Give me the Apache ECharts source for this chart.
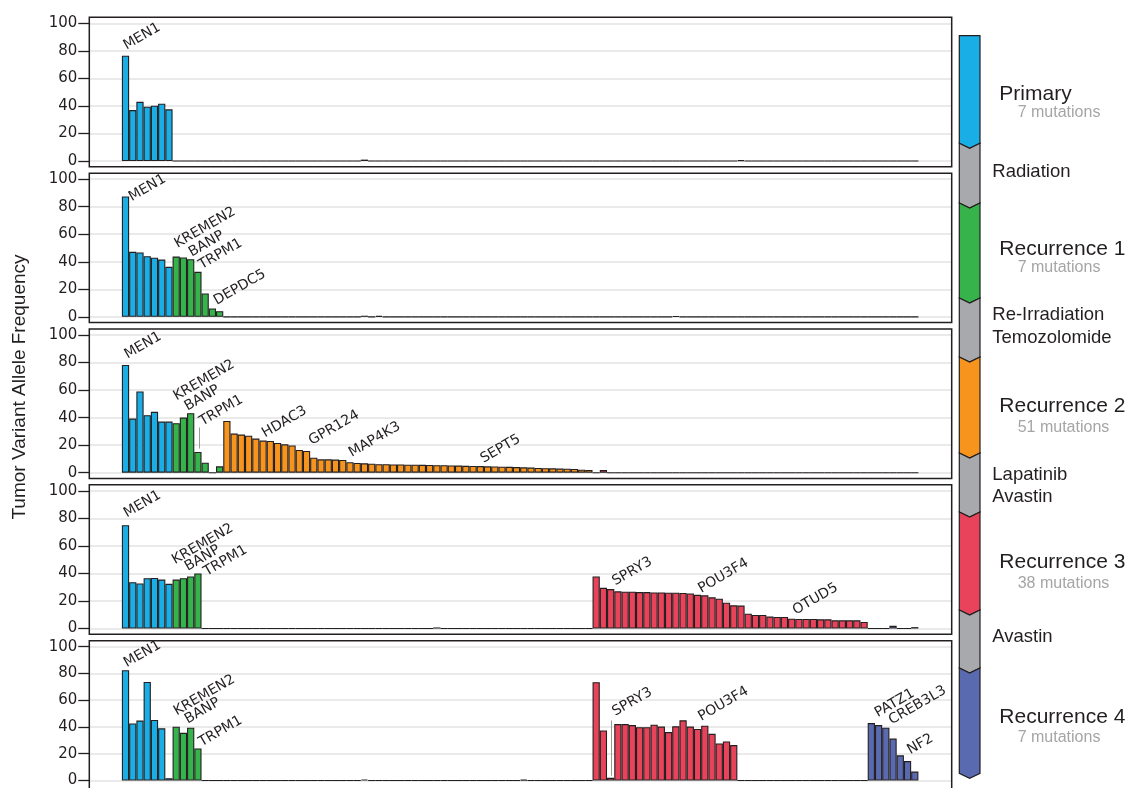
<!DOCTYPE html>
<html>
<head>
<meta charset="utf-8">
<script src="https://cdn.jsdelivr.net/npm/echarts@6/dist/echarts.min.js"></script>
<style>html,body{margin:0;padding:0;background:#fff}#main{width:1132px;height:788px}</style>
</head>
<body>
<div id="main"></div>
<script>
var groupNames = ['Primary', 'Recurrence 1', 'Recurrence 2', 'Recurrence 3', 'Recurrence 4'];
var groupSizes = [7, 7, 51, 38, 7];
var groupColors = ['#1aaee6', '#36b44b', '#f7941e', '#e8435a', '#5a6ab0'];
var yTicks = [0, 20, 40, 60, 80, 100];

// allele frequency per panel and mutation group (values not listed are 0)
var p1Primary = [76.5, 37, 43, 39.4, 40.2, 41.6, 37.5];
var p1Rec1 = [];
var p1Rec2 = [0, 0, 0, 0, 0, 0, 0, 0, 0, 0, 0, 0, 0, 0, 0, 0, 0, 0, 0, 1.0];
var p1Rec3 = [0, 0, 0, 0, 0, 0, 0, 0, 0, 0, 0, 0, 0, 0, 0, 0, 0, 0, 0, 0, 0.6];
var p1Rec4 = [];

var p2Primary = [87.4, 47.2, 46.8, 44, 43, 41.6, 36.3];
var p2Rec1 = [43.8, 43.1, 41.9, 32.7, 17, 6.1, 4.1];
var p2Rec2 = [0, 0, 0, 0, 0, 0, 0, 0, 0, 0, 0, 0, 0, 0, 0, 0, 0, 0, 0, 0.8, 0, 0.7];
var p2Rec3 = [0, 0, 0, 0, 0, 0, 0, 0, 0, 0, 0, 0.6];
var p2Rec4 = [];

var p3Primary = [78.2, 39.3, 59, 41.8, 44.2, 37.1, 37.1];
var p3Rec1 = [36, 40, 43.2, 15.1, 7.3, 0, 4.6];
var p3Rec2 = [37.6, 28.4, 27.7, 26.9, 24.8, 23.3, 23.1, 21.6, 20.6, 19.8,
              16.5, 15.8, 10.9, 9.7, 9.7, 9.5, 9.3, 7.6, 7.1, 6.8,
              6.5, 6.2, 6.2, 6.0, 6.0, 5.8, 5.8, 5.7, 5.6, 5.5,
              5.4, 5.3, 5.2, 5.0, 4.9, 4.8, 4.6, 4.5, 4.4, 4.3,
              4.1, 3.9, 3.7, 3.5, 3.3, 3.2, 3.0, 2.9, 2.7, 2.2, 2.0];
var p3Rec3 = [0, 2];
var p3Rec4 = [];

var p4Primary = [75.1, 33.7, 32.7, 36.6, 36.8, 35.6, 32.5];
var p4Rec1 = [35.6, 36.6, 37.8, 40];
var p4Rec2 = [0, 0, 0, 0, 0, 0, 0, 0, 0, 0, 0, 0, 0, 0, 0, 0, 0, 0, 0, 0,
              0, 0, 0, 0, 0, 0, 0, 0, 0, 0.8];
var p4Rec3 = [37.8, 29.6, 28.7, 27, 26.8, 26.8, 26.5, 26.5, 26.2, 26.2,
              26, 26, 25.8, 25.5, 24.5, 24.1, 22.7, 21.7, 18.8, 16.9,
              16.7, 10.8, 9.9, 9.9, 8.7, 8.4, 8.4, 7.2, 7.0, 7.0,
              7.0, 6.7, 6.7, 6.0, 6.0, 6.0, 6.0, 4.8];
var p4Rec4 = [0, 0, 0, 2, 0, 0, 1];

var p5Primary = [82.4, 42.6, 44.8, 73.7, 45.3, 39, 1.7];
var p5Rec1 = [40.2, 35.6, 39.5, 24];
var p5Rec2 = [0, 0, 0, 0, 0, 0, 0, 0, 0, 0, 0, 0, 0, 0, 0, 0, 0, 0, 0, 0.8,
              0, 0, 0, 0, 0, 0, 0, 0, 0, 0, 0, 0, 0, 0, 0, 0, 0, 0, 0, 0, 0, 0.6];
var p5Rec3 = [73.5, 37.4, 2, 42.2, 42.2, 41.4, 39.8, 39.8, 41.7, 40.3,
              36.2, 40.5, 45, 40.3, 38.5, 41, 34.9, 27.7, 29.2, 26.5];
var p5Rec4 = [42.9, 41.4, 39.5, 31.3, 18.8, 14.5, 6.7];

var panels = [
    [p1Primary, p1Rec1, p1Rec2, p1Rec3, p1Rec4],
    [p2Primary, p2Rec1, p2Rec2, p2Rec3, p2Rec4],
    [p3Primary, p3Rec1, p3Rec2, p3Rec3, p3Rec4],
    [p4Primary, p4Rec1, p4Rec2, p4Rec3, p4Rec4],
    [p5Primary, p5Rec1, p5Rec2, p5Rec3, p5Rec4]
];

// gene labels: panel, mutation index, gene
var geneLabels = [
    [0, 0, 'MEN1'],
    [1, 0, 'MEN1'], [1, 7, 'KREMEN2'], [1, 8, 'BANP'], [1, 10, 'TRPM1'], [1, 12, 'DEPDC5'],
    [2, 0, 'MEN1'], [2, 7, 'KREMEN2'], [2, 8, 'BANP'], [2, 10, 'TRPM1'], [2, 19, 'HDAC3'],
    [2, 25, 'GPR124'], [2, 31, 'MAP4K3'], [2, 49, 'SEPT5'],
    [3, 0, 'MEN1'], [3, 7, 'KREMEN2'], [3, 8, 'BANP'], [3, 10, 'TRPM1'], [3, 67, 'SPRY3'],
    [3, 79, 'POU3F4'], [3, 92, 'OTUD5'],
    [4, 0, 'MEN1'], [4, 7, 'KREMEN2'], [4, 8, 'BANP'], [4, 10, 'TRPM1'], [4, 67, 'SPRY3'],
    [4, 79, 'POU3F4'], [4, 103, 'PATZ1'], [4, 105, 'CREB3L3'], [4, 108, 'NF2']
];
// label anchor relative to bar top-left, px
var labelNudge = [
    [2.7, -3],
    [8, 7.7], [3, -5.7], [10.1, 2.1], [5.6, 0.3], [6.1, -0.6],
    [3.7, -3.3], [2, -19.6], [5.8, -4], [6.3, -23.3], [3.8, -0.3],
    [7, -3], [3.6, -2.3], [4.9, -0.1],
    [3, -4.7], [0.7, -12.3], [6.1, -4.3], [10.6, 5.4], [6.3, -0.5],
    [5.4, 1], [5.9, -1.1],
    [3, 0], [2.3, -8.3], [6.1, -6.3], [5.6, 1], [6.3, -58.9],
    [5.4, -5.1], [8.3, -3], [7.8, -0.3], [4.5, -4]
];

// legend: stage fills and treatment notes
var timelineEdges = [35.7, 143.3, 203, 298, 357, 453, 512, 610, 668, 773.3];
var gray = '#a7a9ac';
var timelineFill = [groupColors[0], gray, groupColors[1], gray, groupColors[2], gray, groupColors[3], gray, groupColors[4]];
var treatments = [['Radiation'], ['Re-Irradiation', 'Temozolomide'], ['Lapatinib', 'Avastin'], ['Avastin']];

var ink = '#231f20';
var gridLeft = 89.3, gridW = 862.4, gridH = 137.7, panelStep = 155.85, firstTop = 23.3;
var xMin = -5, xMax = 114.1;
var barW = gridW / (xMax - xMin);

var grids = [], xAxes = [], yAxes = [], series = [], graphics = [];

for (var k = 0; k < panels.length; k++) {
    var panelTop = firstTop + panelStep * k;
    grids.push({ left: gridLeft, top: panelTop, width: gridW, height: gridH });
    xAxes.push({ gridIndex: k, type: 'value', min: xMin, max: xMax, show: false });
    yAxes.push({
        gridIndex: k, type: 'value', min: 0, max: 100, interval: 20,
        axisLine: { show: false, onZero: false },
        axisTick: { show: true, length: 11, lineStyle: { color: ink, width: 1.3 } },
        axisLabel: { margin: 12, color: ink, fontSize: 15, fontFamily: 'DejaVu Sans' },
        splitLine: { lineStyle: { color: '#e3e3e3', width: 1.6 } }
    });

    var data = [];
    var idx = 0;
    for (var g = 0; g < groupSizes.length; g++) {
        for (var i = 0; i < groupSizes[g]; i++) {
            var v = panels[k][g][i] || 0;
            data.push({ value: [idx, v], itemStyle: { color: groupColors[g] } });
            idx++;
        }
    }
    geneLabels.forEach(function (gl, n) {
        if (gl[0] !== k) return;
        data[gl[1]].label = {
            show: true, formatter: gl[2],
            position: [labelNudge[n][0] + 3.5, labelNudge[n][1]],
            rotate: 30, align: 'left', verticalAlign: 'bottom',
            fontSize: 14, fontFamily: 'DejaVu Sans', color: ink
        };
    });

    var s = {
        type: 'bar', xAxisIndex: k, yAxisIndex: k, barWidth: barW,
        itemStyle: { borderColor: ink, borderWidth: 1.1 },
        label: { show: false },
        data: data
    };
    if (k === 2) {
        s.markLine = { silent: true, symbol: ['none', 'none'], label: { show: false },
            lineStyle: { color: '#9a9a9a', width: 1, type: 'solid' },
            data: [[{ coord: [10.2, 32.8] }, { coord: [10.2, 17.5] }]] };
    }
    if (k === 4) {
        s.markLine = { silent: true, symbol: ['none', 'none'], label: { show: false },
            lineStyle: { color: '#9a9a9a', width: 1, type: 'solid' },
            data: [[{ coord: [67.1, 44.8] }, { coord: [67.1, 3.6] }]] };
    }
    series.push(s);

    graphics.push({
        type: 'rect', silent: true, z: 10,
        shape: { x: gridLeft, y: panelTop - 6, width: gridW, height: gridH + 11.7 },
        style: { fill: null, stroke: ink, lineWidth: 1.5 }
    });
}

// timeline bar on the right
var tl = 959.3, tr = 980, tm = (tl + tr) / 2, notch = 5;
for (var s2 = 0; s2 < timelineFill.length; s2++) {
    var segTop = timelineEdges[s2], segBot = timelineEdges[s2 + 1];
    var pts = s2 === 0 ? [[tl, segTop], [tr, segTop]] : [[tl, segTop], [tm, segTop + notch], [tr, segTop]];
    pts.push([tr, segBot], [tm, segBot + notch], [tl, segBot]);
    graphics.push({
        type: 'polygon', silent: true, z: 5 + s2,
        shape: { points: pts },
        style: { fill: timelineFill[s2], stroke: ink, lineWidth: 1.2 }
    });
}

function txt(str, x, y, size, color) {
    graphics.push({
        type: 'text', silent: true, x: x, y: y,
        style: { text: str, fontSize: size, fontFamily: 'Liberation Sans', fill: color,
                 align: 'left', verticalAlign: 'middle' }
    });
}
var stageY = [94, 249.5, 406, 562.5, 717.5];
var countY = [113, 267.5, 427.5, 584, 738];
for (var j = 0; j < groupNames.length; j++) {
    txt(groupNames[j], 999.3, stageY[j], 21, ink);
    txt(groupSizes[j] + ' mutations', 1017.7, countY[j], 16, '#a5a5a5');
}
var treatY = [[171.7], [314.5, 338], [475, 497], [637]];
treatments.forEach(function (lines, n) {
    lines.forEach(function (line, m) { txt(line, 992.3, treatY[n][m], 18.5, ink); });
});

graphics.push({
    type: 'text', silent: true, x: 20, y: 387, rotation: Math.PI / 2,
    style: { text: 'Tumor Variant Allele Frequency', fontSize: 19, fontFamily: 'Liberation Sans',
             fill: ink, align: 'center', verticalAlign: 'middle' }
});

var chart = echarts.init(document.getElementById('main'));
chart.setOption({
    animation: false,
    backgroundColor: '#ffffff',
    grid: grids,
    xAxis: xAxes,
    yAxis: yAxes,
    series: series,
    graphic: graphics
});
</script>
</body>
</html>
